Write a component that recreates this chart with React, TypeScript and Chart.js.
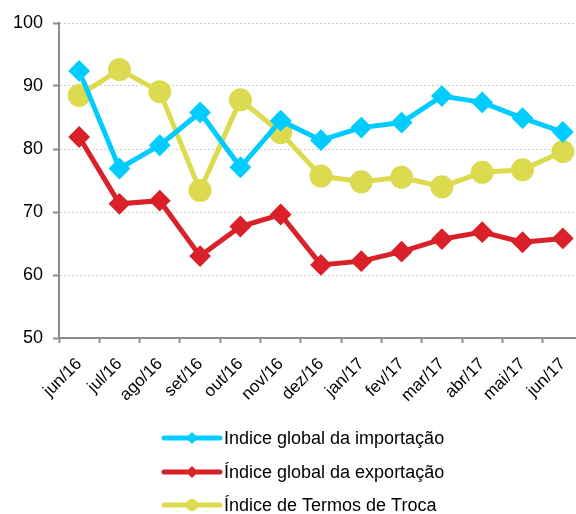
import React, { useEffect, useRef } from "react";
import { Chart, registerables } from "chart.js";

Chart.register(...registerables);

const categories = ["jun/16", "jul/16", "ago/16", "set/16", "out/16", "nov/16", "dez/16", "jan/17", "fev/17", "mar/17", "abr/17", "mai/17", "jun/17"];
const importValues = [92.4, 76.9, 80.6, 85.8, 77.1, 84.5, 81.4, 83.4, 84.2, 88.4, 87.4, 84.9, 82.7];
const exportValues = [81.9, 71.3, 71.8, 63.0, 67.7, 69.6, 61.6, 62.2, 63.7, 65.7, 66.8, 65.2, 65.8];
const termsValues = [88.5, 92.6, 89.1, 73.4, 87.8, 82.6, 75.7, 74.8, 75.5, 74.0, 76.3, 76.7, 79.6];
const seriesLabels = ["Indice global da importação", "Índice global da exportação", "Índice de Termos de Troca"];
const yTicks = [50, 60, 70, 80, 90, 100];

const CYAN = "#00CCFF";
const RED = "#DA2029";
const YELLOW = "#DCDB4F";
const FONT = "'Liberation Sans', Arial, sans-serif";

const legendPlugin = {
  id: "customLegend",
  afterDraw(chart: any) {
    const ctx = chart.ctx;
    const x0 = 164;
    const x1 = 220;
    const rows = [438, 472, 505];
    chart.data.datasets.forEach((ds: any, i: number) => {
      const y = rows[i];
      ctx.save();
      ctx.strokeStyle = ds.borderColor;
      ctx.lineWidth = 5;
      ctx.lineCap = "round";
      ctx.beginPath();
      ctx.moveTo(x0, y);
      ctx.lineTo(x1, y);
      ctx.stroke();
      ctx.fillStyle = ds.borderColor;
      ctx.beginPath();
      if (ds.pointStyle === "circle") {
        ctx.arc((x0 + x1) / 2, y, 6, 0, Math.PI * 2);
      } else {
        const cx = (x0 + x1) / 2;
        const r = 6;
        ctx.moveTo(cx, y - r);
        ctx.lineTo(cx + r, y);
        ctx.lineTo(cx, y + r);
        ctx.lineTo(cx - r, y);
        ctx.closePath();
      }
      ctx.fill();
      ctx.fillStyle = "#000000";
      ctx.font = `18px ${FONT}`;
      ctx.textBaseline = "middle";
      ctx.textAlign = "left";
      ctx.fillText(ds.label, 224, y + 1);
      ctx.restore();
    });
  },
};

export default function App() {
  const ref = useRef<HTMLCanvasElement>(null);

  useEffect(() => {
    if (!ref.current) return;
    const chart = new Chart(ref.current, {
      type: "line",
      data: {
        labels: categories,
        datasets: [
          {
            label: seriesLabels[0],
            data: importValues,
            borderColor: CYAN,
            backgroundColor: CYAN,
            borderWidth: 5,
            pointStyle: "rectRot",
            pointRadius: 9.5,
            pointBorderWidth: 2,
            tension: 0,
          },
          {
            label: seriesLabels[1],
            data: exportValues,
            borderColor: RED,
            backgroundColor: RED,
            borderWidth: 5,
            pointStyle: "rectRot",
            pointRadius: 9.5,
            pointBorderWidth: 2,
            tension: 0,
          },
          {
            label: seriesLabels[2],
            data: termsValues,
            borderColor: YELLOW,
            backgroundColor: YELLOW,
            borderWidth: 5,
            pointStyle: "circle",
            pointRadius: 10.5,
            pointBorderWidth: 2,
            tension: 0,
          },
        ],
      },
      options: {
        animation: false,
        responsive: false,
        layout: { padding: { top: 23, right: 17, left: 0, bottom: 0 } },
        plugins: {
          legend: { display: false },
          tooltip: { enabled: false },
        },
        scales: {
          x: {
            type: "category",
            offset: true,
            afterFit: (s: any) => {
              s.height = 176;
            },
            grid: {
              display: true,
              offset: true,
              drawOnChartArea: false,
              drawTicks: true,
              tickLength: 5,
              tickColor: "#8c8c8c",
              tickWidth: 2,
            },
            border: { display: true, color: "#8c8c8c", width: 2 },
            ticks: {
              minRotation: 45,
              maxRotation: 45,
              autoSkip: false,
              padding: 11,
              color: "#000000",
              font: { family: FONT, size: 17 },
            },
          },
          y: {
            min: 50,
            max: 100,
            afterFit: (s: any) => {
              s.width = 59;
            },
            afterBuildTicks: (s: any) => {
              s.ticks = yTicks.map((v) => ({ value: v }));
            },
            grid: {
              display: true,
              color: "#cfcfcf",
              lineWidth: 1,
              drawTicks: true,
              tickLength: 6,
              tickColor: "#8c8c8c",
              tickWidth: 2,
            },
            border: { display: true, color: "#8c8c8c", width: 2, dash: [2, 2] },
            ticks: {
              padding: 10,
              color: "#000000",
              font: { family: FONT, size: 18 },
            },
          },
        },
      },
      plugins: [legendPlugin],
    });
    return () => chart.destroy();
  }, []);

  return (
    <div style={{ position: "fixed", left: 0, top: 0, width: 576, height: 514, overflow: "hidden", background: "#ffffff" }}>
      <canvas ref={ref} width={600} height={514} style={{ display: "block" }} />
    </div>
  );
}
